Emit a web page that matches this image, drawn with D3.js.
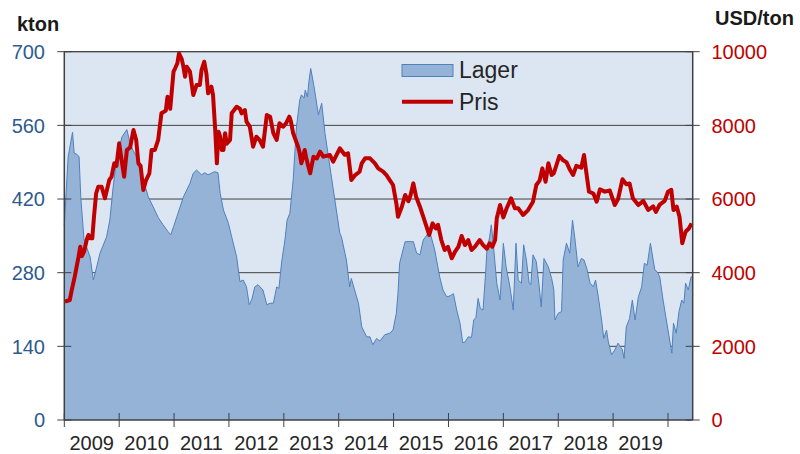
<!DOCTYPE html>
<html>
<head>
<meta charset="utf-8">
<script src="https://cdn.jsdelivr.net/npm/d3@7"></script>
<style>
  body { margin: 0; background: #fff; }
  svg { display: block; font-family: "Liberation Sans", Arial, sans-serif; }
</style>
</head>
<body>
<svg id="chart"></svg>
<script>
var width = 800;
var height = 454;

// lager (kton), decimal year / value
var lagerYears = [2009.00,2009.07,2009.15,2009.18,2009.23,2009.27,2009.30,2009.36,2009.47,2009.53,2009.59,2009.65,2009.77,2009.83,2009.89,2009.95,
  2010.05,2010.14,2010.20,2010.25,2010.32,2010.38,2010.44,2010.53,2010.62,2010.71,2010.80,2010.89,2010.94,2010.99,
  2011.05,2011.17,2011.29,2011.35,2011.41,2011.50,2011.56,2011.62,2011.74,2011.80,2011.84,2011.90,2011.99,
  2012.05,2012.14,2012.20,2012.26,2012.32,2012.37,2012.42,2012.47,2012.53,2012.62,2012.69,2012.75,2012.81,2012.87,2012.91,2012.96,
  2013.02,2013.06,2013.11,2013.17,2013.23,2013.29,2013.32,2013.37,2013.39,2013.43,2013.46,2013.49,2013.54,2013.58,2013.63,2013.69,2013.75,2013.84,2013.93,
  2014.02,2014.05,2014.14,2014.20,2014.23,2014.29,2014.36,2014.42,2014.51,2014.57,2014.62,2014.69,2014.75,2014.84,2014.93,2014.99,
  2015.05,2015.08,2015.11,2015.21,2015.30,2015.36,2015.42,2015.48,2015.54,2015.63,2015.68,2015.75,2015.84,2015.90,2015.97,
  2016.03,2016.09,2016.15,2016.21,2016.26,2016.30,2016.36,2016.42,2016.46,2016.50,2016.54,2016.58,2016.63,2016.68,2016.70,2016.75,2016.78,2016.81,2016.88,2016.94,
  2017.00,2017.05,2017.12,2017.18,2017.23,2017.27,2017.33,2017.37,2017.42,2017.47,2017.50,2017.54,2017.60,2017.65,2017.69,2017.74,2017.82,2017.88,2017.92,2017.94,
  2018.00,2018.06,2018.09,2018.15,2018.21,2018.26,2018.30,2018.36,2018.42,2018.47,2018.52,2018.58,2018.64,2018.68,2018.73,2018.79,2018.83,2018.88,2018.91,2018.97,
  2019.03,2019.09,2019.14,2019.17,2019.20,2019.24,2019.30,2019.35,2019.40,2019.46,2019.52,2019.57,2019.62,2019.68,2019.73,2019.76,2019.80,2019.85,2019.91,2019.97,
  2020.03,2020.07,2020.10,2020.15,2020.20,2020.25,2020.29,2020.32,2020.37,2020.42,2020.45];
var lagerValues = [370,500,547,507,505,500,424,342,310,266,291,317,348,380,443,494,
  538,552,525,513,500,475,456,424,405,385,371,358,352,367,
  386,424,450,469,475,466,470,466,472,470,431,399,374,
  348,310,263,266,253,219,230,253,257,247,219,222,222,253,250,300,
  342,380,393,456,557,608,618,612,627,614,646,668,640,614,580,602,545,481,418,
  355,348,304,253,269,247,222,177,158,158,143,155,150,162,165,171,
  203,241,298,339,339,339,317,314,342,355,350,323,272,247,234,
  236,240,209,184,147,148,158,157,190,195,231,212,209,285,323,348,371,342,260,228,
  336,291,253,209,336,266,260,333,304,260,257,314,301,257,215,307,291,269,247,190,
  203,206,304,336,317,380,348,291,307,304,288,260,253,266,234,190,155,171,150,124,
  133,146,138,133,117,177,193,228,190,234,253,298,294,336,304,285,282,272,228,190,
  152,127,184,165,206,228,222,260,247,272,272];

// pris (USD/ton), decimal year / value
var prisYears = [2009.01,2009.10,2009.13,2009.19,2009.26,2009.29,2009.32,2009.36,2009.41,2009.44,2009.47,2009.51,2009.54,2009.58,2009.62,2009.68,2009.74,2009.82,2009.86,2009.91,2009.95,
  2010.00,2010.05,2010.09,2010.14,2010.20,2010.26,2010.31,2010.35,2010.39,2010.44,2010.49,2010.55,2010.59,2010.65,2010.71,2010.77,2010.85,2010.88,2010.93,2010.99,
  2011.02,2011.06,2011.09,2011.14,2011.17,2011.20,2011.23,2011.29,2011.35,2011.41,2011.47,2011.50,2011.55,2011.59,2011.62,2011.68,2011.71,2011.75,2011.78,2011.81,2011.84,2011.87,2011.90,2011.93,2011.96,
  2012.02,2012.05,2012.14,2012.20,2012.23,2012.29,2012.32,2012.38,2012.44,2012.50,2012.56,2012.62,2012.69,2012.75,2012.81,2012.87,2012.92,2012.99,
  2013.04,2013.10,2013.13,2013.17,2013.26,2013.29,2013.32,2013.38,2013.41,2013.48,2013.54,2013.60,2013.66,2013.72,2013.84,2013.90,
  2014.02,2014.11,2014.17,2014.23,2014.30,2014.38,2014.42,2014.48,2014.57,2014.66,2014.72,2014.81,2014.87,2014.93,2014.99,
  2015.05,2015.08,2015.15,2015.21,2015.27,2015.31,2015.36,2015.41,2015.48,2015.54,2015.60,2015.65,2015.71,2015.77,2015.81,2015.87,2015.93,2015.99,
  2016.06,2016.12,2016.18,2016.24,2016.30,2016.36,2016.42,2016.48,2016.57,2016.63,2016.70,2016.75,2016.80,2016.85,2016.88,2016.94,
  2017.00,2017.06,2017.14,2017.21,2017.27,2017.36,2017.45,2017.54,2017.60,2017.66,2017.71,2017.77,2017.82,2017.88,2017.92,
  2018.02,2018.09,2018.15,2018.21,2018.27,2018.33,2018.42,2018.47,2018.50,2018.56,2018.64,2018.70,2018.76,2018.85,2018.94,
  2019.03,2019.09,2019.17,2019.24,2019.30,2019.36,2019.46,2019.55,2019.64,2019.73,2019.78,2019.85,2019.94,
  2020.00,2020.06,2020.10,2020.16,2020.21,2020.26,2020.32,2020.38,2020.43];
var prisValues = [3212,3258,3484,3891,4434,4705,4450,4569,4900,5023,4933,4933,5500,6155,6335,6335,6019,6516,6600,6969,6900,
  7512,7000,6606,7331,7400,7874,7600,6969,6900,6245,6516,6698,7331,7331,7603,8327,8400,8778,8450,9457,
  9550,9685,9956,9800,9593,9321,9593,9457,8824,9095,9095,9500,9728,9400,8870,9050,8824,7874,6969,7828,7692,7331,7331,7784,7500,
  7603,8327,8506,8450,8327,8417,8099,7964,7421,7692,7600,7421,8281,8235,7784,7603,8056,7964,
  8056,8235,8100,7784,7421,7241,6969,7331,7100,6698,7150,7100,7285,7150,7195,7013,
  7377,7200,7240,6516,6650,6740,6969,7105,7105,6969,6830,6742,6650,6516,6380,
  5883,5520,5791,6109,5940,6109,6426,6063,5791,5520,5248,5023,5340,5200,5300,4887,4616,4700,
  4390,4570,4700,4996,4750,4887,4616,4700,4887,4750,4650,4800,4705,4887,5476,5837,
  5500,5750,6019,5750,5750,5566,5700,5927,6380,6500,6833,6470,6969,6650,6700,
  7168,7050,7000,6800,6652,6900,6850,7195,6850,6199,6150,5927,6263,6200,6230,
  5837,6000,6535,6400,6420,6019,5837,5950,5702,5800,5650,5850,5950,
  6199,6250,5702,5791,5520,4797,5112,5200,5340];

var yearLabels = ["2009","2010","2011","2012","2013","2014","2015","2016","2017","2018","2019"];
var leftTicks = [0, 140, 280, 420, 560, 700];
var rightTicks = [0, 2000, 4000, 6000, 8000, 10000];

var lager = lagerYears.map(function(t, i) { return {t: t, v: lagerValues[i]}; });
var pris = prisYears.map(function(t, i) { return {t: t, v: prisValues[i]}; });

var plotL = 64.3, plotR = 692.7, plotT = 51.7, plotB = 420;
var svg = d3.select("#chart").attr("width", width).attr("height", height);

var x = d3.scaleLinear().domain([2009, 2020.45]).range([plotL, plotR]);
var yL = d3.scaleLinear().domain([0, 700]).range([plotB, plotT]);
var yR = d3.scaleLinear().domain([0, 10000]).range([plotB, plotT]);

var axisColor = "#404040";

// plot background
svg.append("rect")
  .attr("x", plotL).attr("y", plotT)
  .attr("width", plotR - plotL).attr("height", plotB - plotT)
  .attr("fill", "#dce6f2");

// gridlines
svg.append("g").selectAll("line").data(leftTicks.slice(1)).enter().append("line")
  .attr("x1", plotL).attr("x2", plotR)
  .attr("y1", function(d) { return yL(d); }).attr("y2", function(d) { return yL(d); })
  .attr("stroke", axisColor).attr("stroke-width", 1);

// lager area
var area = d3.area()
  .x(function(d) { return x(d.t); })
  .y0(yL(0))
  .y1(function(d) { return yL(d.v); });
svg.append("path").datum(lager)
  .attr("d", area)
  .attr("fill", "#95b3d7");
svg.append("path").datum(lager)
  .attr("d", d3.line().x(function(d) { return x(d.t); }).y(function(d) { return yL(d.v); }))
  .attr("fill", "none").attr("stroke", "#4f81bd").attr("stroke-width", 1);

// pris line
svg.append("path").datum(pris)
  .attr("d", d3.line().x(function(d) { return x(d.t); }).y(function(d) { return yR(d.v); }))
  .attr("fill", "none").attr("stroke", "#c00000").attr("stroke-width", 4)
  .attr("stroke-linejoin", "round");

// frame
svg.append("line").attr("x1", plotL).attr("x2", plotR).attr("y1", plotT).attr("y2", plotT).attr("stroke", axisColor);
svg.append("line").attr("x1", plotL).attr("x2", plotL).attr("y1", plotT).attr("y2", plotB).attr("stroke", axisColor).attr("stroke-width", 1.5);
svg.append("line").attr("x1", plotR).attr("x2", plotR).attr("y1", plotT).attr("y2", plotB).attr("stroke", axisColor).attr("stroke-width", 1.5);
svg.append("line").attr("x1", plotL).attr("x2", plotR).attr("y1", plotB).attr("y2", plotB).attr("stroke", axisColor).attr("stroke-width", 1.5);

// left ticks + labels
var lt = svg.append("g").selectAll("g").data(leftTicks).enter().append("g");
lt.append("line")
  .attr("x1", plotL - 7).attr("x2", plotL + 7)
  .attr("y1", function(d) { return yL(d); }).attr("y2", function(d) { return yL(d); })
  .attr("stroke", axisColor);
lt.append("text")
  .attr("x", 45).attr("y", function(d) { return yL(d); }).attr("dy", "0.36em")
  .attr("text-anchor", "end").attr("font-size", 20).attr("fill", "#2f5a8f")
  .text(function(d) { return d; });

// right ticks + labels
var rt = svg.append("g").selectAll("g").data(rightTicks).enter().append("g");
rt.append("line")
  .attr("x1", plotR - 7).attr("x2", plotR + 7)
  .attr("y1", function(d) { return yR(d); }).attr("y2", function(d) { return yR(d); })
  .attr("stroke", axisColor);
rt.append("text")
  .attr("x", 711.5).attr("y", function(d) { return yR(d); }).attr("dy", "0.36em")
  .attr("font-size", 20).attr("fill", "#c00000")
  .text(function(d) { return d; });

// bottom ticks at year starts, labels at year midpoints
svg.append("g").selectAll("line").data(d3.range(2009, 2021)).enter().append("line")
  .attr("x1", function(d) { return x(d); }).attr("x2", function(d) { return x(d); })
  .attr("y1", 413).attr("y2", 427)
  .attr("stroke", axisColor);
svg.append("g").selectAll("text").data(yearLabels).enter().append("text")
  .attr("x", function(d) { return x(+d + 0.5); }).attr("y", 449.5)
  .attr("text-anchor", "middle").attr("font-size", 20).attr("fill", "#262626")
  .text(function(d) { return d; });

// unit labels
svg.append("text").attr("x", 17).attr("y", 31).attr("font-size", 20).attr("font-weight", "bold").attr("fill", "#1a1a1a").text("kton");
svg.append("text").attr("x", 715).attr("y", 25).attr("font-size", 20).attr("font-weight", "bold").attr("fill", "#1a1a1a").text("USD/ton");

// legend
var legend = svg.append("g");
legend.append("rect").attr("x", 402).attr("y", 64.5).attr("width", 51).attr("height", 12)
  .attr("fill", "#95b3d7").attr("stroke", "#4f81bd").attr("stroke-width", 1);
legend.append("text").attr("x", 459).attr("y", 78).attr("font-size", 23).attr("fill", "#262626").text("Lager");
legend.append("line").attr("x1", 402).attr("x2", 453).attr("y1", 101.7).attr("y2", 101.7)
  .attr("stroke", "#c00000").attr("stroke-width", 4);
legend.append("text").attr("x", 459).attr("y", 110).attr("font-size", 23).attr("fill", "#262626").text("Pris");
</script>
</body>
</html>
